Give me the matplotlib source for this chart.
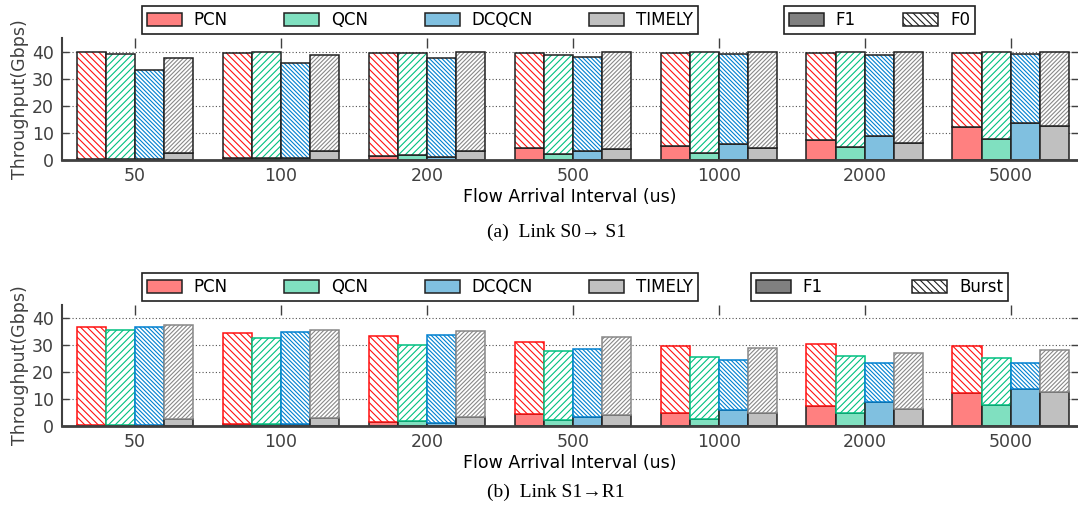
import matplotlib

matplotlib.use("Agg")
import matplotlib.pyplot as plt
import numpy as np
from matplotlib.patches import Patch

# x categories: flow arrival interval (us)
intervals = ["50", "100", "200", "500", "1000", "2000", "5000"]
algos = ["PCN", "QCN", "DCQCN", "TIMELY"]

# (a) Link S0->S1, rows = intervals, cols = PCN, QCN, DCQCN, TIMELY
s0s1_total = [
    [39.8, 39.3, 33.1, 37.7],
    [39.7, 40.0, 36.0, 39.0],
    [39.7, 39.5, 37.8, 40.0],
    [39.6, 39.0, 38.2, 40.0],
    [39.6, 40.0, 39.3, 40.0],
    [39.6, 40.0, 38.9, 40.0],
    [39.7, 39.9, 39.3, 40.0],
]
s0s1_f1 = [
    [0.5, 0.3, 0.5, 2.6],
    [0.9, 0.8, 0.8, 3.2],
    [1.4, 2.0, 1.1, 3.3],
    [4.3, 2.4, 3.2, 4.1],
    [5.1, 2.6, 5.9, 4.6],
    [7.4, 4.8, 9.0, 6.2],
    [12.1, 7.8, 13.6, 12.6],
]

# (b) Link S1->R1
s1r1_total = [
    [36.7, 35.6, 36.7, 37.5],
    [34.5, 32.6, 34.8, 35.8],
    [33.6, 30.3, 33.7, 35.4],
    [31.1, 27.8, 28.8, 33.0],
    [29.8, 25.6, 24.5, 29.0],
    [30.4, 26.0, 23.4, 27.0],
    [29.8, 25.4, 23.4, 28.1],
]
s1r1_f1 = [
    [0.5, 0.3, 0.5, 2.6],
    [0.9, 0.8, 0.8, 3.1],
    [1.4, 2.0, 1.1, 3.3],
    [4.3, 2.3, 3.2, 4.2],
    [5.0, 2.6, 6.0, 4.7],
    [7.5, 4.8, 9.1, 6.3],
    [12.2, 7.9, 13.7, 12.7],
]

fills = ["#ff8080", "#80e0c0", "#80c0e0", "#c0c0c0"]
hatch_colors = ["#ff1010", "#00c080", "#0080d0", "#888888"]
hatches = ["\\" * 5, "/" * 5, "\\" * 8, "/" * 8]

plt.rcParams["font.family"] = ["DejaVu Sans"]
plt.rcParams["font.size"] = 12
plt.rcParams["hatch.linewidth"] = 0.8

fig = plt.figure(figsize=(10.78, 5.12), dpi=100)
W, H = 1078, 512


def add_axes(top_px, bottom_px):
    return fig.add_axes([62 / W, 1 - bottom_px / H, 1 - 62 / W, (bottom_px - top_px) / H])


def draw_panel(ax, total, f1, outline_black):
    total = np.array(total)
    f1 = np.array(f1)
    x = np.arange(len(intervals))
    width = 0.2
    for j in range(len(algos)):
        xs = x + (j - 1.5) * width
        burst = total[:, j] - f1[:, j]
        ax.bar(xs, f1[:, j], width, color=fills[j], edgecolor="#202020", linewidth=1.1)
        ax.bar(xs, burst, width, bottom=f1[:, j], color="white",
               edgecolor=hatch_colors[j], hatch=hatches[j], linewidth=0)
        edge = "#202020" if outline_black else hatch_colors[j]
        ax.bar(xs, burst, width, bottom=f1[:, j], fill=False,
               edgecolor=edge, linewidth=1.1)

    ax.set_xlim(-0.5, 6.46)
    ax.set_ylim(0, 45)
    ax.set_xticks(x)
    ax.set_xticklabels(intervals)
    ax.set_yticks([0, 10, 20, 30, 40])
    ax.set_axisbelow(True)
    ax.yaxis.grid(True, linestyle=(0, (1, 2)), color="#505050", linewidth=0.8)
    for s in ["top", "right"]:
        ax.spines[s].set_visible(False)
    ax.spines["left"].set_color("#404040")
    ax.spines["left"].set_linewidth(1.5)
    ax.spines["bottom"].set_color("#404040")
    ax.spines["bottom"].set_linewidth(2)
    ax.tick_params(axis="x", direction="in", top=True, bottom=True, length=7,
                   width=1, color="#404040", labelcolor="#404040", pad=5,
                   labelsize=12.5)
    ax.tick_params(axis="y", direction="in", left=True, right=True, length=5,
                   width=1, color="#404040", labelcolor="#404040", pad=6,
                   labelsize=12.5)
    ax.set_ylabel("Throughput(Gbps)", color="#404040", fontsize=12.5, labelpad=2)
    ax.set_xlabel("Flow Arrival Interval (us)", fontsize=12.5, labelpad=2)


def add_legends(yc_px, x2_left, x2_right, second_label):
    algo_handles = [Patch(facecolor=c, edgecolor="#202020", linewidth=1.1) for c in fills]
    kw = dict(loc="center left", mode="expand", borderaxespad=0, fancybox=False,
              framealpha=1, edgecolor="#202020", handlelength=2.1,
              handleheight=0.8, borderpad=0.3, handletextpad=0.7, fontsize=12)
    leg = fig.legend(algo_handles, algos, ncol=4,
                     bbox_to_anchor=(142 / W, 1 - yc_px / H, (698 - 142) / W, 0), **kw)
    leg.get_frame().set_linewidth(1.2)
    part_handles = [
        Patch(facecolor="#808080", edgecolor="#202020", linewidth=1.1),
        Patch(facecolor="white", edgecolor="#202020", hatch="\\" * 5, linewidth=1.1),
    ]
    leg2 = fig.legend(part_handles, ["F1", second_label], ncol=2,
                      bbox_to_anchor=(x2_left / W, 1 - yc_px / H, (x2_right - x2_left) / W, 0), **kw)
    leg2.get_frame().set_linewidth(1.2)


caption_font = ["Liberation Serif", "DejaVu Serif"]

ax_a = add_axes(38.3, 160)
draw_panel(ax_a, s0s1_total, s0s1_f1, outline_black=True)
add_legends(20.1, 784, 975, "F0")
fig.text(0.516, 1 - 232 / H, "(a)  Link S0\u2192 S1", ha="center", va="center",
         family=caption_font, fontsize=14)

ax_b = add_axes(305, 426)
draw_panel(ax_b, s1r1_total, s1r1_f1, outline_black=False)
add_legends(287, 751, 1008, "Burst")
fig.text(0.516, 1 - 492 / H, "(b)  Link S1\u2192R1", ha="center", va="center",
         family=caption_font, fontsize=14)

fig.savefig("out.png", dpi=100)
plt.close(fig)
